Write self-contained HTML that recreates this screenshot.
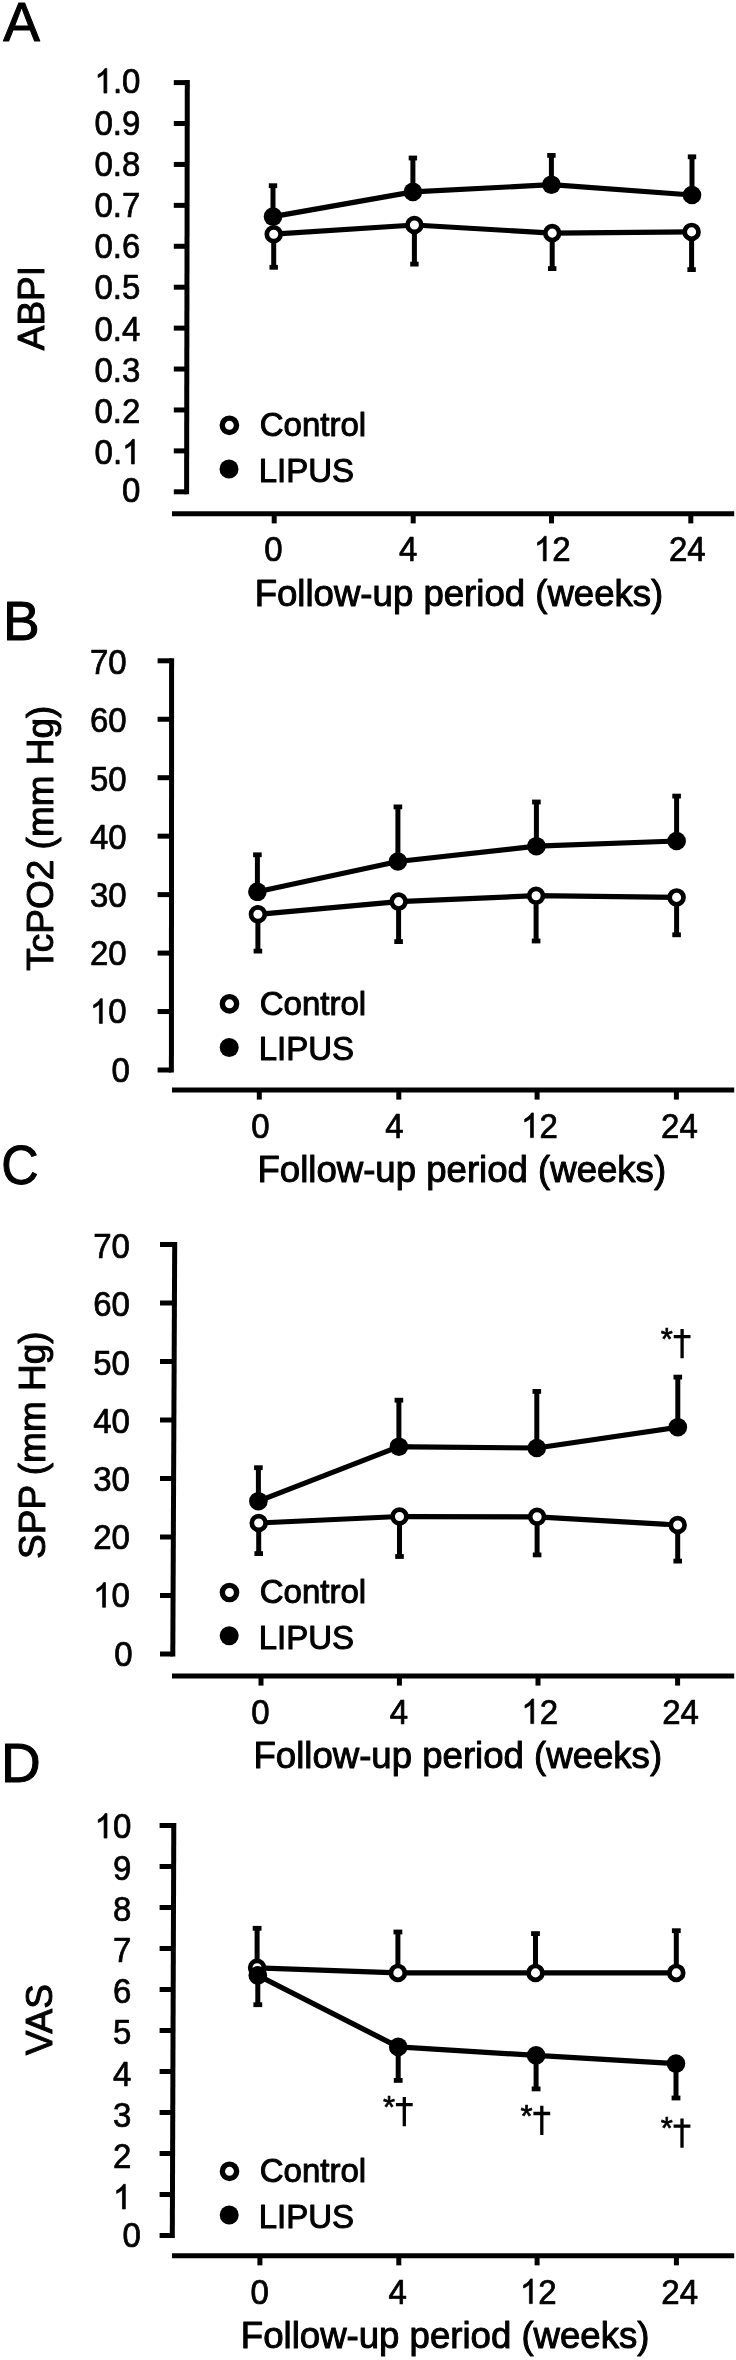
<!DOCTYPE html>
<html><head><meta charset="utf-8"><title>Figure</title>
<style>
html,body{margin:0;padding:0;background:#fff;}
svg{display:block;}
text{font-family:"Liberation Sans",sans-serif;fill:#000;stroke:#000;stroke-width:1.0px;stroke-linejoin:round;}
.t,.g{font-size:33.0px;}
.t{stroke-width:0.7px;}
.a{font-size:36.6px;}
.y{font-size:37.0px;}
.L{font-size:55px;stroke-width:1.0px;}
.l{stroke:#000;stroke-width:5.2;stroke-linejoin:round;fill:none;}
.e{stroke:#000;stroke-width:5.0;}
.x{stroke:#000;stroke-width:5.0;fill:none;}
</style></head><body>
<svg width="736" height="2360" viewBox="0 0 736 2360">
<defs><filter id="b" x="0" y="0" width="736" height="2360" filterUnits="userSpaceOnUse"><feGaussianBlur stdDeviation="0.55"/></filter></defs>
<rect width="736" height="2360" fill="#fff"/>
<g filter="url(#b)">
<line x1="187.3" y1="80.1" x2="186.6" y2="494.3" class="x"/>
<line x1="173.8" y1="491.8" x2="186.6" y2="491.8" class="x"/>
<text transform="translate(122.05,502.23) scale(1,1.04)" class="t">0</text>
<line x1="173.8" y1="450.88" x2="186.67" y2="450.88" class="x"/>
<g transform="translate(94.53,463.98) scale(1,1.04)"><text x="0" y="0" class="t">0.</text><path transform="translate(27.52,0) scale(0.01611,-0.01611)" d="M763 0H583V1147Q518 1085 412.5 1023Q307 961 223 930V1104Q374 1175 487 1276Q600 1377 647 1472H763Z" stroke="#000" stroke-width="43.4" stroke-linejoin="round"/></g>
<line x1="173.8" y1="409.96" x2="186.74" y2="409.96" class="x"/>
<text transform="translate(94.52,422.88) scale(1,1.04)" class="t">0.2</text>
<line x1="173.8" y1="369.04" x2="186.81" y2="369.04" class="x"/>
<text transform="translate(94.52,381.78) scale(1,1.04)" class="t">0.3</text>
<line x1="173.8" y1="328.12" x2="186.88" y2="328.12" class="x"/>
<text transform="translate(94.52,340.68) scale(1,1.04)" class="t">0.4</text>
<line x1="173.8" y1="287.2" x2="186.95" y2="287.2" class="x"/>
<text transform="translate(94.52,299.48) scale(1,1.04)" class="t">0.5</text>
<line x1="173.8" y1="246.28" x2="187.02" y2="246.28" class="x"/>
<text transform="translate(94.52,258.38) scale(1,1.04)" class="t">0.6</text>
<line x1="173.8" y1="205.36" x2="187.09" y2="205.36" class="x"/>
<text transform="translate(94.52,217.28) scale(1,1.04)" class="t">0.7</text>
<line x1="173.8" y1="164.44" x2="187.16" y2="164.44" class="x"/>
<text transform="translate(94.52,176.18) scale(1,1.04)" class="t">0.8</text>
<line x1="173.8" y1="123.52" x2="187.23" y2="123.52" class="x"/>
<text transform="translate(94.52,135.08) scale(1,1.04)" class="t">0.9</text>
<line x1="173.8" y1="82.6" x2="187.3" y2="82.6" class="x"/>
<g transform="translate(94.53,93.08) scale(1,1.04)"><path transform="translate(0,0) scale(0.01611,-0.01611)" d="M763 0H583V1147Q518 1085 412.5 1023Q307 961 223 930V1104Q374 1175 487 1276Q600 1377 647 1472H763Z" stroke="#000" stroke-width="43.4" stroke-linejoin="round"/><text x="18.35" y="0" class="t">.0</text></g>
<line x1="172" y1="513.8" x2="734.2" y2="513.8" class="x"/>
<line x1="274.2" y1="513.8" x2="274.2" y2="523.4" class="x"/>
<text transform="translate(264.34,560.9) scale(1,1.04)" class="t">0</text>
<line x1="413.2" y1="513.8" x2="413.2" y2="523.4" class="x"/>
<text transform="translate(398.93,560.9) scale(1,1.04)" class="t">4</text>
<line x1="551.5" y1="513.8" x2="551.5" y2="523.4" class="x"/>
<g transform="translate(533.9,560.9) scale(1,1.04)"><path transform="translate(0,0) scale(0.01611,-0.01611)" d="M763 0H583V1147Q518 1085 412.5 1023Q307 961 223 930V1104Q374 1175 487 1276Q600 1377 647 1472H763Z" stroke="#000" stroke-width="43.4" stroke-linejoin="round"/><text x="18.35" y="0" class="t">2</text></g>
<line x1="690.8" y1="513.8" x2="690.8" y2="523.4" class="x"/>
<text transform="translate(669.02,560.9) scale(1,1.04)" class="t">24</text>
<text x="254.67" y="605.8" class="a">Follow-up period (weeks)</text>
<text transform="translate(43.9,350.26) rotate(-90)" class="y">ABPI</text>
<text x="3.33" y="40.8" class="L">A</text>
<polyline class="l" fill="none" points="273.7,234.2 414.4,225 552.2,233.1 691.6,231.9"/>
<line x1="273.7" y1="234.2" x2="273.7" y2="267.3" class="e"/>
<rect x="269.5" y="264.9" width="8.4" height="4.8" fill="#000"/>
<line x1="414.4" y1="225" x2="414.4" y2="264.1" class="e"/>
<rect x="410.2" y="261.7" width="8.4" height="4.8" fill="#000"/>
<line x1="552.2" y1="233.1" x2="552.2" y2="268.6" class="e"/>
<rect x="548" y="266.2" width="8.4" height="4.8" fill="#000"/>
<line x1="691.6" y1="231.9" x2="691.6" y2="269.6" class="e"/>
<rect x="687.4" y="267.2" width="8.4" height="4.8" fill="#000"/>
<circle cx="273.7" cy="234.2" r="6.9" fill="#fff" stroke="#000" stroke-width="4.7"/>
<circle cx="414.4" cy="225" r="6.9" fill="#fff" stroke="#000" stroke-width="4.7"/>
<circle cx="552.2" cy="233.1" r="6.9" fill="#fff" stroke="#000" stroke-width="4.7"/>
<circle cx="691.6" cy="231.9" r="6.9" fill="#fff" stroke="#000" stroke-width="4.7"/>
<polyline class="l" fill="none" points="273,216.6 412.9,191.9 551.4,184.7 692,195"/>
<line x1="273" y1="216.6" x2="273" y2="185.7" class="e"/>
<rect x="268.8" y="183.3" width="8.4" height="4.8" fill="#000"/>
<line x1="412.9" y1="191.9" x2="412.9" y2="158" class="e"/>
<rect x="408.7" y="155.6" width="8.4" height="4.8" fill="#000"/>
<line x1="551.4" y1="184.7" x2="551.4" y2="155.4" class="e"/>
<rect x="547.2" y="153" width="8.4" height="4.8" fill="#000"/>
<line x1="692" y1="195" x2="692" y2="156.8" class="e"/>
<rect x="687.8" y="154.4" width="8.4" height="4.8" fill="#000"/>
<circle cx="273" cy="216.6" r="9.3" fill="#000"/>
<circle cx="412.9" cy="191.9" r="9.3" fill="#000"/>
<circle cx="551.4" cy="184.7" r="9.3" fill="#000"/>
<circle cx="692" cy="195" r="9.3" fill="#000"/>
<circle cx="229.4" cy="425.3" r="7.15" fill="#fff" stroke="#000" stroke-width="5.4"/>
<circle cx="229" cy="469" r="9.5" fill="#000"/>
<text x="259.75" y="436.1" class="g">Control</text>
<text x="258.76" y="481.9" class="g">LIPUS</text>
<line x1="171.6" y1="658.3" x2="171.4" y2="1072.5" class="x"/>
<line x1="157.6" y1="1070" x2="171.4" y2="1070" class="x"/>
<text transform="translate(111.55,1082.18) scale(1,1.04)" class="t">0</text>
<line x1="157.6" y1="1011.54" x2="171.43" y2="1011.54" class="x"/>
<g transform="translate(90,1023.38) scale(1,1.04)"><path transform="translate(0,0) scale(0.01611,-0.01611)" d="M763 0H583V1147Q518 1085 412.5 1023Q307 961 223 930V1104Q374 1175 487 1276Q600 1377 647 1472H763Z" stroke="#000" stroke-width="43.4" stroke-linejoin="round"/><text x="18.35" y="0" class="t">0</text></g>
<line x1="157.6" y1="953.09" x2="171.46" y2="953.09" class="x"/>
<text transform="translate(89.99,965.18) scale(1,1.04)" class="t">20</text>
<line x1="157.6" y1="894.63" x2="171.49" y2="894.63" class="x"/>
<text transform="translate(89.99,906.98) scale(1,1.04)" class="t">30</text>
<line x1="157.6" y1="836.17" x2="171.51" y2="836.17" class="x"/>
<text transform="translate(89.99,848.78) scale(1,1.04)" class="t">40</text>
<line x1="157.6" y1="777.71" x2="171.54" y2="777.71" class="x"/>
<text transform="translate(89.99,790.58) scale(1,1.04)" class="t">50</text>
<line x1="157.6" y1="719.26" x2="171.57" y2="719.26" class="x"/>
<text transform="translate(89.99,732.38) scale(1,1.04)" class="t">60</text>
<line x1="157.6" y1="660.8" x2="171.6" y2="660.8" class="x"/>
<text transform="translate(89.99,674.18) scale(1,1.04)" class="t">70</text>
<line x1="172" y1="1090" x2="734.2" y2="1090" class="x"/>
<line x1="259.3" y1="1090" x2="259.3" y2="1099.6" class="x"/>
<text transform="translate(251.24,1137.6) scale(1,1.04)" class="t">0</text>
<line x1="398.8" y1="1090" x2="398.8" y2="1099.6" class="x"/>
<text transform="translate(385.32,1137.6) scale(1,1.04)" class="t">4</text>
<line x1="537.1" y1="1090" x2="537.1" y2="1099.6" class="x"/>
<g transform="translate(521.1,1137.6) scale(1,1.04)"><path transform="translate(0,0) scale(0.01611,-0.01611)" d="M763 0H583V1147Q518 1085 412.5 1023Q307 961 223 930V1104Q374 1175 487 1276Q600 1377 647 1472H763Z" stroke="#000" stroke-width="43.4" stroke-linejoin="round"/><text x="18.35" y="0" class="t">2</text></g>
<line x1="676.4" y1="1090" x2="676.4" y2="1099.6" class="x"/>
<text transform="translate(661.07,1137.6) scale(1,1.04)" class="t">24</text>
<text x="257.47" y="1181.8" class="a">Follow-up period (weeks)</text>
<text transform="translate(53.1,970.75) rotate(-90)" class="y">TcPO2 (mm Hg)</text>
<text x="3" y="640.1" class="L">B</text>
<polyline class="l" fill="none" points="257.9,914.3 398.6,901.6 536.1,895.7 676.6,897.4"/>
<line x1="257.9" y1="914.3" x2="257.9" y2="951.1" class="e"/>
<rect x="253.6" y="948.7" width="8.6" height="4.8" fill="#000"/>
<line x1="398.6" y1="901.6" x2="398.6" y2="941.6" class="e"/>
<rect x="394.3" y="939.2" width="8.6" height="4.8" fill="#000"/>
<line x1="536.1" y1="895.7" x2="536.1" y2="941" class="e"/>
<rect x="531.8" y="938.6" width="8.6" height="4.8" fill="#000"/>
<line x1="676.6" y1="897.4" x2="676.6" y2="934.8" class="e"/>
<rect x="672.3" y="932.4" width="8.6" height="4.8" fill="#000"/>
<circle cx="257.9" cy="914.3" r="6.9" fill="#fff" stroke="#000" stroke-width="4.7"/>
<circle cx="398.6" cy="901.6" r="6.9" fill="#fff" stroke="#000" stroke-width="4.7"/>
<circle cx="536.1" cy="895.7" r="6.9" fill="#fff" stroke="#000" stroke-width="4.7"/>
<circle cx="676.6" cy="897.4" r="6.9" fill="#fff" stroke="#000" stroke-width="4.7"/>
<polyline class="l" fill="none" points="257.4,891.8 397.9,861.5 536.4,846.2 676.6,841"/>
<line x1="257.4" y1="891.8" x2="257.4" y2="854.8" class="e"/>
<rect x="253.1" y="852.4" width="8.6" height="4.8" fill="#000"/>
<line x1="397.9" y1="861.5" x2="397.9" y2="806.9" class="e"/>
<rect x="393.6" y="804.5" width="8.6" height="4.8" fill="#000"/>
<line x1="536.4" y1="846.2" x2="536.4" y2="802" class="e"/>
<rect x="532.1" y="799.6" width="8.6" height="4.8" fill="#000"/>
<line x1="676.6" y1="841" x2="676.6" y2="796.1" class="e"/>
<rect x="672.3" y="793.7" width="8.6" height="4.8" fill="#000"/>
<circle cx="257.4" cy="891.8" r="9.3" fill="#000"/>
<circle cx="397.9" cy="861.5" r="9.3" fill="#000"/>
<circle cx="536.4" cy="846.2" r="9.3" fill="#000"/>
<circle cx="676.6" cy="841" r="9.3" fill="#000"/>
<circle cx="229.5" cy="1003.8" r="7.15" fill="#fff" stroke="#000" stroke-width="5.4"/>
<circle cx="229.2" cy="1047.5" r="9.5" fill="#000"/>
<text x="259.75" y="1014.6" class="g">Control</text>
<text x="258.76" y="1059.6" class="g">LIPUS</text>
<line x1="174.7" y1="1242" x2="172.8" y2="1656.5" class="x"/>
<line x1="160" y1="1654" x2="172.8" y2="1654" class="x"/>
<text transform="translate(114.15,1666.38) scale(1,1.04)" class="t">0</text>
<line x1="160" y1="1595.5" x2="173.07" y2="1595.5" class="x"/>
<g transform="translate(93.2,1607.28) scale(1,1.04)"><path transform="translate(0,0) scale(0.01611,-0.01611)" d="M763 0H583V1147Q518 1085 412.5 1023Q307 961 223 930V1104Q374 1175 487 1276Q600 1377 647 1472H763Z" stroke="#000" stroke-width="43.4" stroke-linejoin="round"/><text x="18.35" y="0" class="t">0</text></g>
<line x1="160" y1="1537" x2="173.34" y2="1537" class="x"/>
<text transform="translate(93.19,1549.1) scale(1,1.04)" class="t">20</text>
<line x1="160" y1="1478.5" x2="173.61" y2="1478.5" class="x"/>
<text transform="translate(93.19,1490.91) scale(1,1.04)" class="t">30</text>
<line x1="160" y1="1420" x2="173.89" y2="1420" class="x"/>
<text transform="translate(93.19,1432.73) scale(1,1.04)" class="t">40</text>
<line x1="160" y1="1361.5" x2="174.16" y2="1361.5" class="x"/>
<text transform="translate(93.19,1374.55) scale(1,1.04)" class="t">50</text>
<line x1="160" y1="1303" x2="174.43" y2="1303" class="x"/>
<text transform="translate(93.19,1316.36) scale(1,1.04)" class="t">60</text>
<line x1="160" y1="1244.5" x2="174.7" y2="1244.5" class="x"/>
<text transform="translate(93.19,1258.18) scale(1,1.04)" class="t">70</text>
<line x1="172" y1="1676" x2="734.2" y2="1676" class="x"/>
<line x1="261" y1="1676" x2="261" y2="1685.6" class="x"/>
<text transform="translate(251.24,1723.6) scale(1,1.04)" class="t">0</text>
<line x1="399.4" y1="1676" x2="399.4" y2="1685.6" class="x"/>
<text transform="translate(389.73,1723.6) scale(1,1.04)" class="t">4</text>
<line x1="538" y1="1676" x2="538" y2="1685.6" class="x"/>
<g transform="translate(521.4,1723.6) scale(1,1.04)"><path transform="translate(0,0) scale(0.01611,-0.01611)" d="M763 0H583V1147Q518 1085 412.5 1023Q307 961 223 930V1104Q374 1175 487 1276Q600 1377 647 1472H763Z" stroke="#000" stroke-width="43.4" stroke-linejoin="round"/><text x="18.35" y="0" class="t">2</text></g>
<line x1="677.6" y1="1676" x2="677.6" y2="1685.6" class="x"/>
<text transform="translate(662.27,1723.6) scale(1,1.04)" class="t">24</text>
<text x="253.47" y="1767.6" class="a">Follow-up period (weeks)</text>
<text transform="translate(45.2,1558.9) rotate(-90)" class="y">SPP (mm Hg)</text>
<text transform="translate(1.31,1183.8) scale(0.94,1)" class="L">C</text>
<polyline class="l" fill="none" points="258.7,1523 399.5,1516.5 537.1,1516.8 677.7,1525"/>
<line x1="258.7" y1="1523" x2="258.7" y2="1553.6" class="e"/>
<rect x="254.4" y="1551.2" width="8.6" height="4.8" fill="#000"/>
<line x1="399.5" y1="1516.5" x2="399.5" y2="1556.5" class="e"/>
<rect x="395.2" y="1554.1" width="8.6" height="4.8" fill="#000"/>
<line x1="537.1" y1="1516.8" x2="537.1" y2="1554.9" class="e"/>
<rect x="532.8" y="1552.5" width="8.6" height="4.8" fill="#000"/>
<line x1="677.7" y1="1525" x2="677.7" y2="1561.1" class="e"/>
<rect x="673.4" y="1558.7" width="8.6" height="4.8" fill="#000"/>
<circle cx="258.7" cy="1523" r="6.9" fill="#fff" stroke="#000" stroke-width="4.7"/>
<circle cx="399.5" cy="1516.5" r="6.9" fill="#fff" stroke="#000" stroke-width="4.7"/>
<circle cx="537.1" cy="1516.8" r="6.9" fill="#fff" stroke="#000" stroke-width="4.7"/>
<circle cx="677.7" cy="1525" r="6.9" fill="#fff" stroke="#000" stroke-width="4.7"/>
<polyline class="l" fill="none" points="258.4,1501.2 398.9,1446.7 536.8,1448 677.8,1427.2"/>
<line x1="258.4" y1="1501.2" x2="258.4" y2="1467.7" class="e"/>
<rect x="254.1" y="1465.3" width="8.6" height="4.8" fill="#000"/>
<line x1="398.9" y1="1446.7" x2="398.9" y2="1400.2" class="e"/>
<rect x="394.6" y="1397.8" width="8.6" height="4.8" fill="#000"/>
<line x1="536.8" y1="1448" x2="536.8" y2="1391.4" class="e"/>
<rect x="532.5" y="1389" width="8.6" height="4.8" fill="#000"/>
<line x1="677.8" y1="1427.2" x2="677.8" y2="1377.1" class="e"/>
<rect x="673.5" y="1374.7" width="8.6" height="4.8" fill="#000"/>
<circle cx="258.4" cy="1501.2" r="9.3" fill="#000"/>
<circle cx="398.9" cy="1446.7" r="9.3" fill="#000"/>
<circle cx="536.8" cy="1448" r="9.3" fill="#000"/>
<circle cx="677.8" cy="1427.2" r="9.3" fill="#000"/>
<circle cx="229.5" cy="1592.5" r="7.15" fill="#fff" stroke="#000" stroke-width="5.4"/>
<circle cx="229.2" cy="1635.8" r="9.5" fill="#000"/>
<text x="259.75" y="1602.6" class="g">Control</text>
<text x="258.76" y="1648.8" class="g">LIPUS</text>
<text x="660.73" y="1349.99" class="t" style="font-size:31px">*</text>
<path d="M682.1 1328.9V1358.2M673.7 1336.7H690.5" stroke="#000" stroke-width="3.3" fill="none"/>
<line x1="173.8" y1="1823" x2="172.3" y2="2238" class="x"/>
<line x1="159.6" y1="2235.5" x2="172.3" y2="2235.5" class="x"/>
<text transform="translate(122.55,2247.23) scale(1,1.04)" class="t">0</text>
<line x1="159.6" y1="2194.5" x2="172.45" y2="2194.5" class="x"/>
<g transform="translate(113.05,2208.98) scale(1,1.04)"><path transform="translate(0,0) scale(0.01611,-0.01611)" d="M763 0H583V1147Q518 1085 412.5 1023Q307 961 223 930V1104Q374 1175 487 1276Q600 1377 647 1472H763Z" stroke="#000" stroke-width="43.4" stroke-linejoin="round"/></g>
<line x1="159.6" y1="2153.5" x2="172.6" y2="2153.5" class="x"/>
<text transform="translate(113.05,2167.88) scale(1,1.04)" class="t">2</text>
<line x1="159.6" y1="2112.5" x2="172.75" y2="2112.5" class="x"/>
<text transform="translate(113.05,2126.78) scale(1,1.04)" class="t">3</text>
<line x1="159.6" y1="2071.5" x2="172.9" y2="2071.5" class="x"/>
<text transform="translate(113.05,2085.68) scale(1,1.04)" class="t">4</text>
<line x1="159.6" y1="2030.5" x2="173.05" y2="2030.5" class="x"/>
<text transform="translate(113.05,2044.48) scale(1,1.04)" class="t">5</text>
<line x1="159.6" y1="1989.5" x2="173.2" y2="1989.5" class="x"/>
<text transform="translate(113.05,2003.38) scale(1,1.04)" class="t">6</text>
<line x1="159.6" y1="1948.5" x2="173.35" y2="1948.5" class="x"/>
<text transform="translate(113.05,1962.28) scale(1,1.04)" class="t">7</text>
<line x1="159.6" y1="1907.5" x2="173.5" y2="1907.5" class="x"/>
<text transform="translate(113.05,1921.18) scale(1,1.04)" class="t">8</text>
<line x1="159.6" y1="1866.5" x2="173.65" y2="1866.5" class="x"/>
<text transform="translate(113.05,1880.08) scale(1,1.04)" class="t">9</text>
<line x1="159.6" y1="1825.5" x2="173.8" y2="1825.5" class="x"/>
<g transform="translate(94.7,1838.08) scale(1,1.04)"><path transform="translate(0,0) scale(0.01611,-0.01611)" d="M763 0H583V1147Q518 1085 412.5 1023Q307 961 223 930V1104Q374 1175 487 1276Q600 1377 647 1472H763Z" stroke="#000" stroke-width="43.4" stroke-linejoin="round"/><text x="18.35" y="0" class="t">0</text></g>
<line x1="172" y1="2255.75" x2="734.2" y2="2255.75" class="x"/>
<line x1="259.9" y1="2255.75" x2="259.9" y2="2265.35" class="x"/>
<text transform="translate(250.44,2303.6) scale(1,1.04)" class="t">0</text>
<line x1="398.8" y1="2255.75" x2="398.8" y2="2265.35" class="x"/>
<text transform="translate(388.53,2303.6) scale(1,1.04)" class="t">4</text>
<line x1="537.1" y1="2255.75" x2="537.1" y2="2265.35" class="x"/>
<g transform="translate(520,2303.6) scale(1,1.04)"><path transform="translate(0,0) scale(0.01611,-0.01611)" d="M763 0H583V1147Q518 1085 412.5 1023Q307 961 223 930V1104Q374 1175 487 1276Q600 1377 647 1472H763Z" stroke="#000" stroke-width="43.4" stroke-linejoin="round"/><text x="18.35" y="0" class="t">2</text></g>
<line x1="676.4" y1="2255.75" x2="676.4" y2="2265.35" class="x"/>
<text transform="translate(661.37,2303.6) scale(1,1.04)" class="t">24</text>
<text x="240.87" y="2348" class="a">Follow-up period (weeks)</text>
<text transform="translate(51.9,2055.37) rotate(-90)" class="y">VAS</text>
<text x="1.1" y="1782.1" class="L">D</text>
<polyline class="l" fill="none" points="257.1,1967.8 397.9,1972.9 535.5,1972.9 676.3,1972.9"/>
<line x1="257.1" y1="1967.8" x2="257.1" y2="1928.3" class="e"/>
<rect x="252.7" y="1925.9" width="8.8" height="4.8" fill="#000"/>
<line x1="397.9" y1="1972.9" x2="397.9" y2="1932" class="e"/>
<rect x="393.5" y="1929.6" width="8.8" height="4.8" fill="#000"/>
<line x1="535.5" y1="1972.9" x2="535.5" y2="1933.6" class="e"/>
<rect x="531.1" y="1931.2" width="8.8" height="4.8" fill="#000"/>
<line x1="676.3" y1="1972.9" x2="676.3" y2="1930.7" class="e"/>
<rect x="671.9" y="1928.3" width="8.8" height="4.8" fill="#000"/>
<circle cx="257.1" cy="1967.8" r="6.9" fill="#fff" stroke="#000" stroke-width="4.7"/>
<circle cx="397.9" cy="1972.9" r="6.9" fill="#fff" stroke="#000" stroke-width="4.7"/>
<circle cx="535.5" cy="1972.9" r="6.9" fill="#fff" stroke="#000" stroke-width="4.7"/>
<circle cx="676.3" cy="1972.9" r="6.9" fill="#fff" stroke="#000" stroke-width="4.7"/>
<polyline class="l" fill="none" points="257.8,1975.4 398.2,2046.9 536.1,2055.4 676,2063.6"/>
<line x1="257.8" y1="1975.4" x2="257.8" y2="2004.7" class="e"/>
<rect x="253.4" y="2002.3" width="8.8" height="4.8" fill="#000"/>
<line x1="398.2" y1="2046.9" x2="398.2" y2="2080.4" class="e"/>
<rect x="393.8" y="2078" width="8.8" height="4.8" fill="#000"/>
<line x1="536.1" y1="2055.4" x2="536.1" y2="2088.9" class="e"/>
<rect x="531.7" y="2086.5" width="8.8" height="4.8" fill="#000"/>
<line x1="676" y1="2063.6" x2="676" y2="2098" class="e"/>
<rect x="671.6" y="2095.6" width="8.8" height="4.8" fill="#000"/>
<circle cx="257.8" cy="1975.4" r="9.3" fill="#000"/>
<circle cx="398.2" cy="2046.9" r="9.3" fill="#000"/>
<circle cx="536.1" cy="2055.4" r="9.3" fill="#000"/>
<circle cx="676" cy="2063.6" r="9.3" fill="#000"/>
<circle cx="229.5" cy="2171.3" r="7.15" fill="#fff" stroke="#000" stroke-width="5.4"/>
<circle cx="229.2" cy="2215" r="9.5" fill="#000"/>
<text x="259.75" y="2181.6" class="g">Control</text>
<text x="258.76" y="2227.6" class="g">LIPUS</text>
<text x="382.94" y="2117.99" class="t" style="font-size:31px">*</text>
<path d="M404.3 2096.9V2126.2M395.9 2104.7H412.7" stroke="#000" stroke-width="3.3" fill="none"/>
<text x="520.43" y="2126.79" class="t" style="font-size:31px">*</text>
<path d="M541.8 2105.7V2135M533.4 2113.5H550.2" stroke="#000" stroke-width="3.3" fill="none"/>
<text x="660.63" y="2139.49" class="t" style="font-size:31px">*</text>
<path d="M682 2118.4V2147.7M673.6 2126.2H690.4" stroke="#000" stroke-width="3.3" fill="none"/>
</g>
</svg>
</body></html>
